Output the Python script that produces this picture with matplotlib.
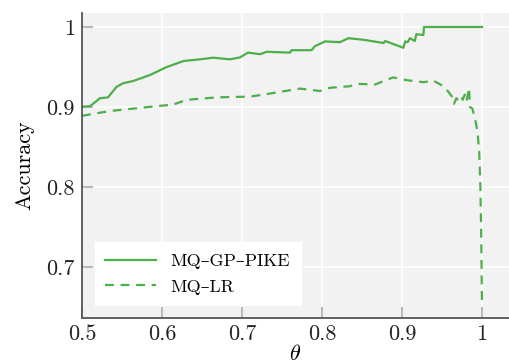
import matplotlib
matplotlib.use("Agg")
import matplotlib.pyplot as plt

plt.rcParams['font.family'] = ['cmr10', 'DejaVu Serif']
plt.rcParams['mathtext.fontset'] = 'cm'
plt.rcParams['axes.formatter.use_mathtext'] = True

gp_theta = [0.5, 0.51, 0.5225, 0.5325, 0.543, 0.551, 0.564, 0.585, 0.606, 0.627, 0.6475,
            0.664, 0.685, 0.6975, 0.7075, 0.7225, 0.731, 0.76, 0.762, 0.787, 0.791, 0.804,
            0.8225, 0.833, 0.852, 0.877, 0.879, 0.9017, 0.904, 0.907, 0.91, 0.916, 0.918,
            0.9267, 0.9275, 1.0]
gp_acc = [0.9004, 0.901, 0.911, 0.912, 0.925, 0.9296, 0.9325, 0.94, 0.95, 0.9575, 0.9596,
          0.9616, 0.9596, 0.962, 0.968, 0.966, 0.969, 0.968, 0.971, 0.971, 0.976, 0.982,
          0.981, 0.986, 0.984, 0.980, 0.9825, 0.974, 0.982, 0.981, 0.986, 0.9825, 0.991,
          0.990, 1.0, 1.0]

lr_theta = [0.5, 0.535, 0.564, 0.593, 0.614, 0.631, 0.668, 0.71, 0.727, 0.76, 0.7725,
            0.7975, 0.81, 0.835, 0.843, 0.866, 0.876, 0.889, 0.906, 0.927, 0.939, 0.952,
            0.958, 0.9625, 0.965, 0.968, 0.971, 0.974, 0.976, 0.979, 0.981, 0.9838, 0.985,
            0.988, 0.99, 0.9925, 0.9946, 0.9966, 0.998, 0.999, 1.0]
lr_acc = [0.889, 0.895, 0.898, 0.901, 0.903, 0.909, 0.912, 0.913, 0.9155, 0.921, 0.923,
          0.920, 0.924, 0.926, 0.929, 0.928, 0.932, 0.937, 0.9335, 0.931, 0.933, 0.926,
          0.919, 0.913, 0.904, 0.911, 0.908, 0.913, 0.909, 0.917, 0.909, 0.924, 0.900,
          0.898, 0.890, 0.8796, 0.867, 0.842, 0.800, 0.740, 0.652]

xticks = [0.5, 0.6, 0.7, 0.8, 0.9, 1.0]
xticklabels = ['0.5', '0.6', '0.7', '0.8', '0.9', '1']
yticks = [0.7, 0.8, 0.9, 1.0]
yticklabels = ['0.7', '0.8', '0.9', '1']

green = '#4daf4a'

fig = plt.figure(figsize=(5.09, 3.64), dpi=100)
ax = fig.add_axes([82/509, 1 - 318/364, 1 - 82/509, (318 - 13)/364])
ax.set_facecolor('#f2f2f2')

ax.plot(gp_theta, gp_acc, color=green, lw=1.6, label='MQ–GP–PIKE')
ax.plot(lr_theta, lr_acc, color=green, lw=1.6, ls=(0, (4, 3)), label='MQ–LR')

ax.set_xlim(0.5, 0.5 + (509 - 82) / 800)
ax.set_ylim(0.7 - 51/800, 1.0 + 14/800)
ax.set_xticks(xticks)
ax.set_xticklabels(xticklabels)
ax.set_yticks(yticks)
ax.set_yticklabels(yticklabels)
ax.grid(True, color='white', lw=1.2)
ax.set_axisbelow(True)

for s in ['top', 'right']:
    ax.spines[s].set_visible(False)
for s in ['left', 'bottom']:
    ax.spines[s].set_color('#555555')
    ax.spines[s].set_linewidth(1.3)

ax.tick_params(direction='in', length=8, width=1.2, color='#aaaaaa', labelsize=16,
               labelcolor='#222222', pad=5)

ax.set_xlabel(r'$\theta$', fontsize=16, labelpad=0)
ax.set_ylabel('Accuracy', fontsize=16, labelpad=9)

leg = ax.legend(loc='lower left', fontsize=13, frameon=True, fancybox=False,
                edgecolor='white', facecolor='white', framealpha=1,
                handlelength=2.8, borderaxespad=0.7, borderpad=0.6, labelspacing=0.55)

fig.savefig('out.png', dpi=100)
